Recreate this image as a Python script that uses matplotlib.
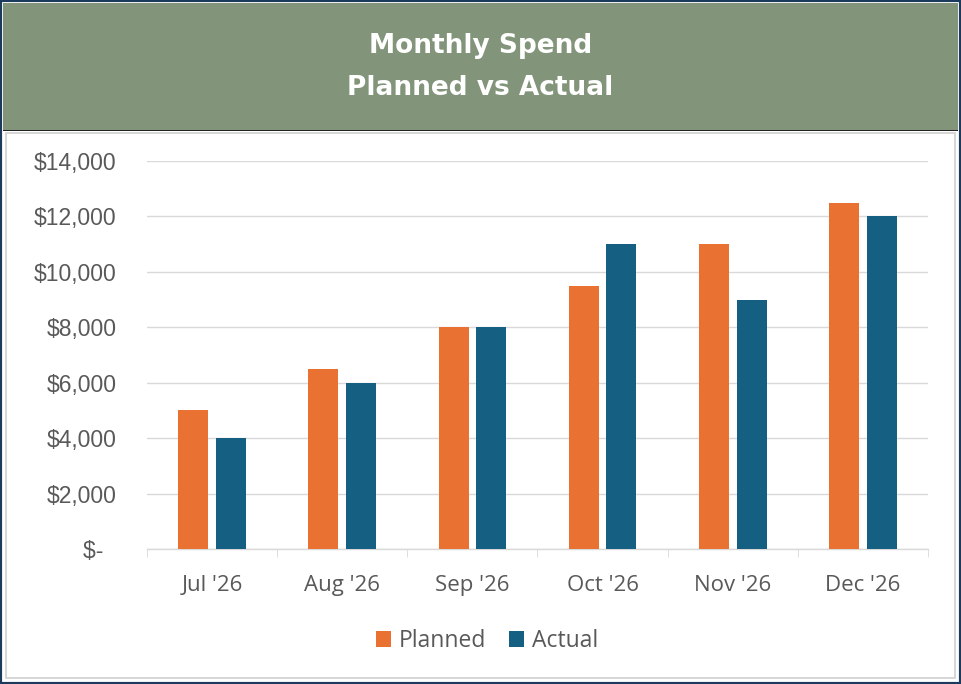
import numpy as np
import matplotlib.pyplot as plt
from matplotlib.patches import Rectangle
from matplotlib.ticker import FuncFormatter, FixedLocator

# data
months = ["Jul '26", "Aug '26", "Sep '26", "Oct '26", "Nov '26", "Dec '26"]
planned = [5000, 6500, 8000, 9500, 11000, 12500]
actual = [4000, 6000, 8000, 11000, 9000, 12000]

orange = '#E97132'
blue = '#156082'
green = '#82947A'
navy = '#1B3A5C'
grey_txt = '#595959'
grid_col = '#D9D9D9'

W, H = 961, 684
fig = plt.figure(figsize=(W / 100, H / 100), dpi=100, facecolor='white')

# outer border, header band, chart frame
fig.patches.append(Rectangle((0, 0), 1, 1, transform=fig.transFigure,
                             facecolor='none', edgecolor=navy, lw=3, zorder=0))
fig.patches.append(Rectangle((3 / W, 1 - 130 / H), 1 - 6 / W, 127 / H, transform=fig.transFigure,
                             facecolor=green, edgecolor='none', zorder=1))
fig.patches.append(Rectangle((3 / W, 1 - 131 / H), 1 - 6 / W, 1.5 / H, transform=fig.transFigure,
                             facecolor='#222222', edgecolor='none', zorder=2))
fig.patches.append(Rectangle((6 / W, 6 / H), 1 - 12 / W, 1 - 139 / H, transform=fig.transFigure,
                             facecolor='none', edgecolor='#D0D0D0', lw=1.2, zorder=2))

fig.text(0.5, 1 - 46 / H, 'Monthly Spend', ha='center', va='center', color='white',
         fontsize=19, fontweight='bold', family='DejaVu Sans')
fig.text(0.5, 1 - 88 / H, 'Planned vs Actual', ha='center', va='center', color='white',
         fontsize=19, fontweight='bold', family='DejaVu Sans')

ax = fig.add_axes([147 / W, (H - 549) / H, 781 / W, 388 / H])
ax.set_zorder(5)
ax.patch.set_alpha(0)
x = np.arange(len(months))
bw = 0.23
ax.bar(x - 0.145, planned, bw, color=orange, label='Planned', zorder=3)
ax.bar(x + 0.145, actual, bw, color=blue, label='Actual', zorder=3)

ax.set_xlim(-0.5, len(months) - 0.5)
ax.set_ylim(0, 14000)
ax.set_yticks(np.arange(0, 14001, 2000))
ax.yaxis.set_major_formatter(FuncFormatter(lambda v, p: '$-  ' if v == 0 else '${:,.0f}'.format(v)))
ax.grid(axis='y', color=grid_col, lw=1, zorder=0)
ax.set_axisbelow(True)
for s in ['top', 'right', 'left']:
    ax.spines[s].set_visible(False)
ax.spines['bottom'].set_color(grid_col)
ax.spines['bottom'].set_linewidth(1)

ax.set_xticks(x)
ax.set_xticklabels(months)
ax.xaxis.set_minor_locator(FixedLocator(np.arange(-0.5, len(months), 1)))
ax.tick_params(axis='x', which='major', length=0, pad=18.5, labelsize=16, labelcolor=grey_txt)
ax.tick_params(axis='x', which='minor', length=6, color=grid_col, direction='out')
ax.tick_params(axis='y', length=0, pad=22, labelsize=16.5, labelcolor=grey_txt)
for t in ax.get_xticklabels():
    t.set_family('Open Sans')
for t in ax.get_yticklabels():
    t.set_family('Liberation Sans')

fig.legend(loc='center', bbox_to_anchor=(487 / W, 1 - 641 / H), ncol=2, frameon=False,
           prop={'family': 'Open Sans', 'size': 16.5}, labelcolor=grey_txt,
           handlelength=0.65, handleheight=0.65, handletextpad=0.35, columnspacing=1.0)

fig.savefig('out.png', dpi=100)
